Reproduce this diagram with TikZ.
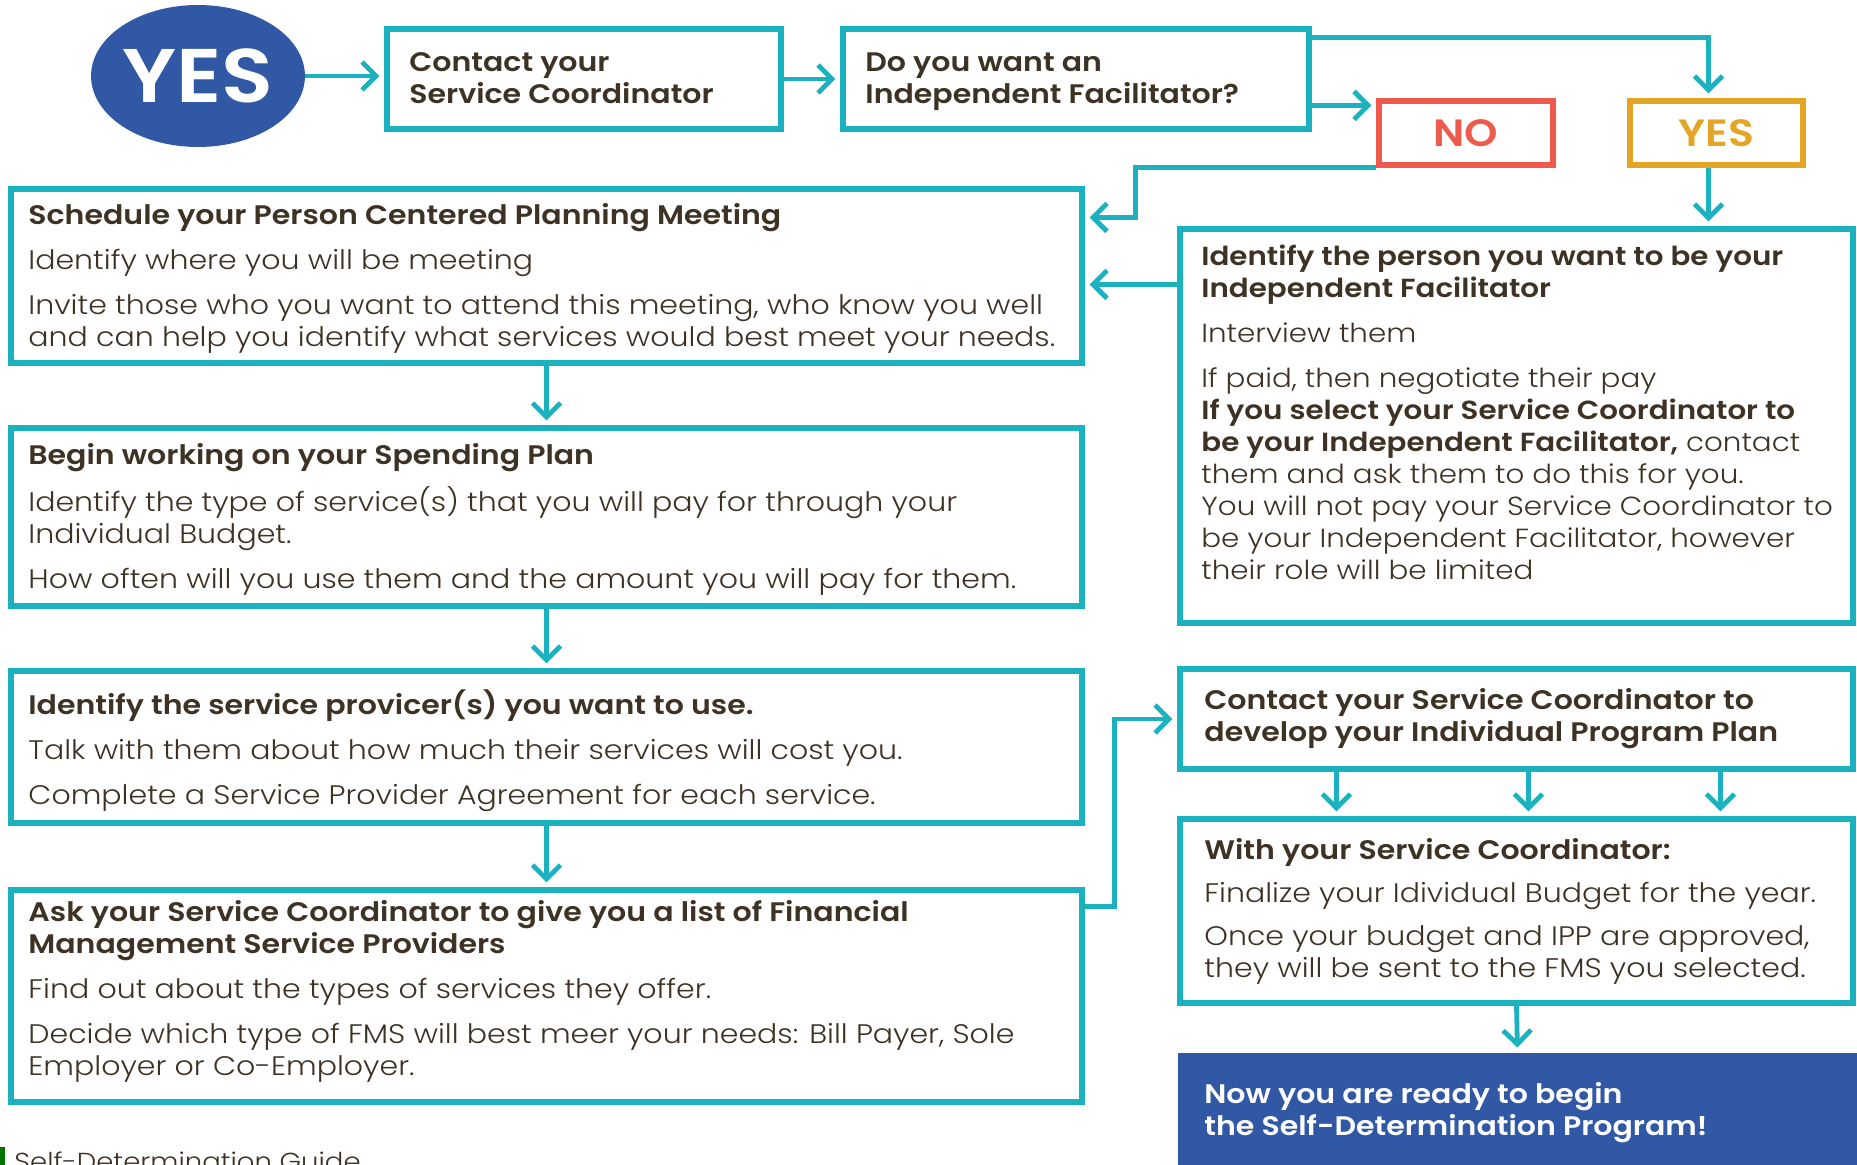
\documentclass[tikz,border=0pt]{standalone}
\usepackage{fontspec}
\setmainfont{Poppins}[UprightFont=* Light, BoldFont=* SemiBold, FakeStretch=1.12]
\usetikzlibrary{arrows.meta,calc,fit,shapes.geometric}

\definecolor{sdteal}{HTML}{1CB1BF}
\definecolor{sdblue}{HTML}{3158A5}
\definecolor{sdred}{HTML}{EE5A4C}
\definecolor{sdgold}{HTML}{E4A425}
\definecolor{ink}{HTML}{3D3224}

\tikzset{
  box/.style={draw=sdteal, line width=2.6pt, inner sep=0pt},
  arr/.style={draw=sdteal, line width=2.4pt, -{Straight Barb[length=7pt,width=14pt]}, shorten >=2.5pt},
  body/.style={anchor=north west, align=left, inner sep=0pt, text=ink, font=\fontsize{13.4}{16}\selectfont},
  head/.style={body, font=\fontsize{13.4}{16}\selectfont\bfseries},
}

\begin{document}
\begin{tikzpicture}[x=0.5pt,y=-0.5pt]
\useasboundingbox (0,0) rectangle (1857,1165);

% top row
\node[ellipse, fill=sdblue, minimum width=106pt, minimum height=71pt, inner sep=0pt,
  text=white, font=\fontsize{38}{38}\selectfont\bfseries] (yes) at (198,76) {YES};
\node[box, fit={(387,29) (781,129)}] (contact) {};
\node[head] (contacttxt) at (409,52) {Contact your\\Service Coordinator};
\node[box, fit={(843,29) (1309,129)}] (q) {};
\node[head] (qtxt) at (865,52) {Do you want an\\Independent Facilitator?};
\node[draw=sdred, line width=2.6pt, inner sep=0pt, fit={(1379,101) (1553,165)}] (no) {};
\node[text=sdred, font=\fontsize{19}{19}\selectfont\bfseries] (notxt) at (no) {NO};
\node[draw=sdgold, line width=2.6pt, inner sep=0pt, fit={(1630,101) (1803,165)}] (yesb) {};
\node[text=sdgold, font=\fontsize{19}{19}\selectfont\bfseries] (yesbtxt) at (yesb) {YES};

% left column
\node[box, fit={(11,189) (1082,363)}] (sched) {};
\node[body] (schedtxt) at (28,203) {\textbf{Schedule your Person Centered Planning Meeting}\\[6.5pt]
  Identify where you will be meeting\\[6.5pt]
  Invite those who you want to attend this meeting, who know you well\\
  and can help you identify what services would best meet your needs.};
\node[box, fit={(11,428) (1082,606)}] (begin) {};
\node[body] (begintxt) at (28,443) {\textbf{Begin working on your Spending Plan}\\[6.5pt]
  Identify the type of service(s) that you will pay for through your\\
  Individual Budget.\\[6.5pt]
  How often will you use them and the amount you will pay for them.};
\node[box, fit={(11,671) (1082,823)}] (ident) {};
\node[body] (identtxt) at (28,689) {\textbf{Identify the service provicer(s) you want to use.}\\[6.5pt]
  Talk with them about how much their services will cost you.\\[6.5pt]
  Complete a Service Provider Agreement for each service.};
\node[box, fit={(11,890) (1082,1102)}] (fms) {};
\node[body] (fmstxt) at (28,900) {\textbf{Ask your Service Coordinator to give you a list of Financial}\\
  \textbf{Management Service Providers}\\[6.5pt]
  Find out about the types of services they offer.\\[6.5pt]
  Decide which type of FMS will best meer your needs: Bill Payer, Sole\\
  Employer or Co-Employer.};

% right column
\node[box, fit={(1180,229) (1853,623)}] (person) {};
\node[body, font=\fontsize{13.1}{16}\selectfont] (persontxt) at (1201,245) {\textbf{Identify the person you want to be your}\\
  \textbf{Independent Facilitator}\\[6.5pt]
  Interview them\\[6.5pt]
  If paid, then negotiate their pay\\
  \textbf{If you select your Service Coordinator to}\\
  \textbf{be your Independent Facilitator,} contact\\
  them and ask them to do this for you.\\
  You will not pay your Service Coordinator to\\
  be your Independent Facilitator, however\\
  their role will be limited};
\node[box, fit={(1180,669) (1853,769)}] (ipp) {};
\node[head] (ipptxt) at (1204,688) {Contact your Service Coordinator to\\develop your Individual Program Plan};
\node[box, fit={(1180,819) (1853,1003)}] (with) {};
\node[body] (withtxt) at (1204,838) {\textbf{With your Service Coordinator:}\\[5.5pt]
  Finalize your Idividual Budget for the year.\\[5.5pt]
  Once your budget and IPP are approved,\\
  they will be sent to the FMS you selected.};
\node[fill=sdblue, inner sep=0pt, fit={(1178,1053) (1857,1165)}] (ready) {};
\node[head, text=white] (readytxt) at (1204,1082) {Now you are ready to begin\\the Self-Determination Program!};

% footer
\fill[green!45!black] (0,1147) rectangle (5,1165);
\node[body, font=\fontsize{12.3}{16}\selectfont] (foot) at (14,1151) {Self-Determination Guide};

% connectors
\draw[arr] (yes.east) -- (yes.east -| contact.west);
\draw[arr] (contact.east) -- (q.west);
\draw[arr] ($(q.north east)+(0,11)$) -| ($(yesb.north)+(-8,0)$);
\draw[arr] ($(q.north east)+(0,79)$) coordinate (qn) -- (qn -| no.west);
\draw[arr] (no.south west) -- ++(-241,0) |- ($(sched.north east)+(0,31)$);
\draw[arr] ($(yesb.south)+(-8,0)$) coordinate (ys) -- (ys |- person.north);
\draw[arr] ($(person.north west)+(0,58)$) coordinate (pw) -- (pw -| sched.east);
\draw[arr] (sched.south) -- (begin.north);
\draw[arr] (begin.south) -- (ident.north);
\draw[arr] (ident.south) -- (fms.north);
\draw[arr] ($(fms.north east)+(0,19)$) -- ++(30,0) |- (ipp.west);
\foreach \dx in {159,351,543}
  \draw[arr] ($(ipp.south west)+(\dx,0)$) coordinate (t) -- (t |- with.north);
\draw[arr] (with.south) -- (ready.north);

\end{tikzpicture}
\end{document}
